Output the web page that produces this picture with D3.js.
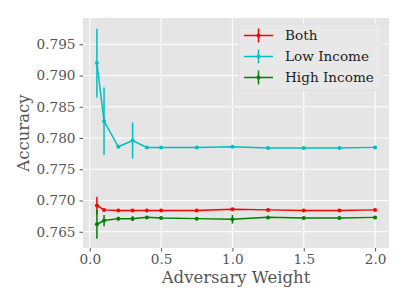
<!DOCTYPE html>
<html lang="en">
<head>
  <meta charset="UTF-8">
  <script src="https://cdn.jsdelivr.net/npm/d3@7"></script>
  <style>
    body { margin: 0; background: #fff; }
    svg text { font-family: "DejaVu Serif", serif; }
  </style>
</head>
<body>
  <div id="chart"></div>
  <script>
    // ---------------- data ----------------
    const weights = [0.05, 0.1, 0.2, 0.3, 0.4, 0.5, 0.75, 1.0, 1.25, 1.5, 1.75, 2.0];

    const bothAcc = [0.7692, 0.7685, 0.7684, 0.7684, 0.7684, 0.7684, 0.7684, 0.7686, 0.7685, 0.7684, 0.7684, 0.7685];
    const bothErr = [0.0014, 0.0002, 0.0001, 0.0001, 0.0001, 0.0001, 0.0001, 0.0002, 0.0001, 0.0001, 0.0001, 0.0001];

    const lowAcc = [0.7920, 0.7827, 0.7786, 0.7796, 0.7785, 0.7785, 0.7785, 0.7786, 0.7784, 0.7784, 0.7784, 0.7785];
    const lowErr = [0.0055, 0.0054, 0.0002, 0.0029, 0.0001, 0.0001, 0.0001, 0.0001, 0.0001, 0.0001, 0.0001, 0.0001];

    const highAcc = [0.7662, 0.7668, 0.7671, 0.7671, 0.7673, 0.7672, 0.7671, 0.7670, 0.7673, 0.7672, 0.7672, 0.7673];
    const highErr = [0.0023, 0.0009, 0.0003, 0.0004, 0.0002, 0.0002, 0.0002, 0.0007, 0.0002, 0.0002, 0.0002, 0.0002];

    const seriesNames = ["Both", "Low Income", "High Income"];
    const seriesColors = ["#ff0000", "#00bfbf", "#008000"];

    const xTicks = [0.0, 0.5, 1.0, 1.5, 2.0];
    const yTicks = [0.765, 0.770, 0.775, 0.780, 0.785, 0.790, 0.795];

    // ---------------- layout ----------------
    const width = 407, height = 305;
    const margin = { top: 18, right: 18, bottom: 57, left: 83 };
    const plotW = width - margin.left - margin.right;
    const plotH = height - margin.top - margin.bottom;
    const serif = "'DejaVu Serif', serif";

    const svg = d3.select("#chart").append("svg")
      .attr("width", width)
      .attr("height", height);

    const g = svg.append("g")
      .attr("transform", `translate(${margin.left},${margin.top})`);

    const x = d3.scaleLinear().domain([-0.0475, 2.0975]).range([0, plotW]);
    const y = d3.scaleLinear().domain([0.7624, 0.7992]).range([plotH, 0]);

    // background
    g.append("rect")
      .attr("width", plotW)
      .attr("height", plotH)
      .attr("fill", "#e5e5e5");

    // grid
    g.selectAll(".gx").data(xTicks).enter().append("line")
      .attr("x1", d => x(d)).attr("x2", d => x(d))
      .attr("y1", 0).attr("y2", plotH)
      .attr("stroke", "#fff").attr("stroke-width", 1);
    g.selectAll(".gy").data(yTicks).enter().append("line")
      .attr("y1", d => y(d)).attr("y2", d => y(d))
      .attr("x1", 0).attr("x2", plotW)
      .attr("stroke", "#fff").attr("stroke-width", 1);

    // axes
    const xAxis = g.append("g")
      .attr("transform", `translate(0,${plotH})`)
      .call(d3.axisBottom(x).tickValues(xTicks).tickFormat(d3.format(".1f")).tickSize(3.5).tickPadding(3));
    const yAxis = g.append("g")
      .call(d3.axisLeft(y).tickValues(yTicks).tickFormat(d3.format(".3f")).tickSize(3.5).tickPadding(4));

    [xAxis, yAxis].forEach(ax => {
      ax.attr("font-family", serif).attr("font-size", 13.6);
      ax.select(".domain").remove();
      ax.selectAll(".tick line").attr("stroke", "#555");
      ax.selectAll(".tick text")
        .attr("fill", "#555")
        .style("font-size", "13.6px")
        .style("font-family", serif);
    });

    // axis labels
    svg.append("text")
      .attr("x", margin.left + plotW / 2)
      .attr("y", 283)
      .attr("text-anchor", "middle")
      .attr("fill", "#555")
      .style("font-size", "16.5px")
      .style("font-family", serif)
      .text("Adversary Weight");

    svg.append("text")
      .attr("transform", `translate(29,${margin.top + plotH / 2}) rotate(-90)`)
      .attr("text-anchor", "middle")
      .attr("fill", "#555")
      .style("font-size", "16.5px")
      .style("font-family", serif)
      .text("Accuracy");

    // series
    const allSeries = [
      { acc: bothAcc, err: bothErr },
      { acc: lowAcc, err: lowErr },
      { acc: highAcc, err: highErr }
    ];

    const line = d3.line()
      .x(d => x(d.w))
      .y(d => y(d.v));

    allSeries.forEach((s, i) => {
      const pts = weights.map((w, j) => ({ w: w, v: s.acc[j], e: s.err[j] }));
      const col = seriesColors[i];
      const sg = g.append("g");

      sg.append("path")
        .datum(pts)
        .attr("d", line)
        .attr("fill", "none")
        .attr("stroke", col)
        .attr("stroke-width", 1.5);

      sg.selectAll(".err").data(pts).enter().append("line")
        .attr("x1", d => x(d.w)).attr("x2", d => x(d.w))
        .attr("y1", d => y(d.v - d.e)).attr("y2", d => y(d.v + d.e))
        .attr("stroke", col)
        .attr("stroke-width", 1.5);

      sg.selectAll("circle").data(pts).enter().append("circle")
        .attr("cx", d => x(d.w)).attr("cy", d => y(d.v))
        .attr("r", 2)
        .attr("fill", col);
    });

    // legend
    const leg = g.append("g")
      .attr("transform", `translate(${239 - margin.left},${24 - margin.top})`);
    leg.append("rect")
      .attr("width", 143)
      .attr("height", 66)
      .attr("rx", 2)
      .attr("fill", "#e8e8e8")
      .attr("stroke", "#dcdcdc")
      .attr("stroke-width", 0.8);

    seriesNames.forEach((name, i) => {
      const ly = 11.5 + i * 21;
      leg.append("line")
        .attr("x1", 5).attr("x2", 34)
        .attr("y1", ly).attr("y2", ly)
        .attr("stroke", seriesColors[i])
        .attr("stroke-width", 1.5);
      leg.append("line")
        .attr("x1", 19.5).attr("x2", 19.5)
        .attr("y1", ly - 7).attr("y2", ly + 7)
        .attr("stroke", seriesColors[i])
        .attr("stroke-width", 1.5);
      leg.append("circle")
        .attr("cx", 19.5).attr("cy", ly).attr("r", 2)
        .attr("fill", seriesColors[i]);
      leg.append("text")
        .attr("x", 46)
        .attr("y", ly)
        .attr("dy", "0.35em")
        .attr("fill", "#222")
        .style("font-size", "13.6px")
        .style("font-family", serif)
        .text(name);
    });
  </script>
</body>
</html>
